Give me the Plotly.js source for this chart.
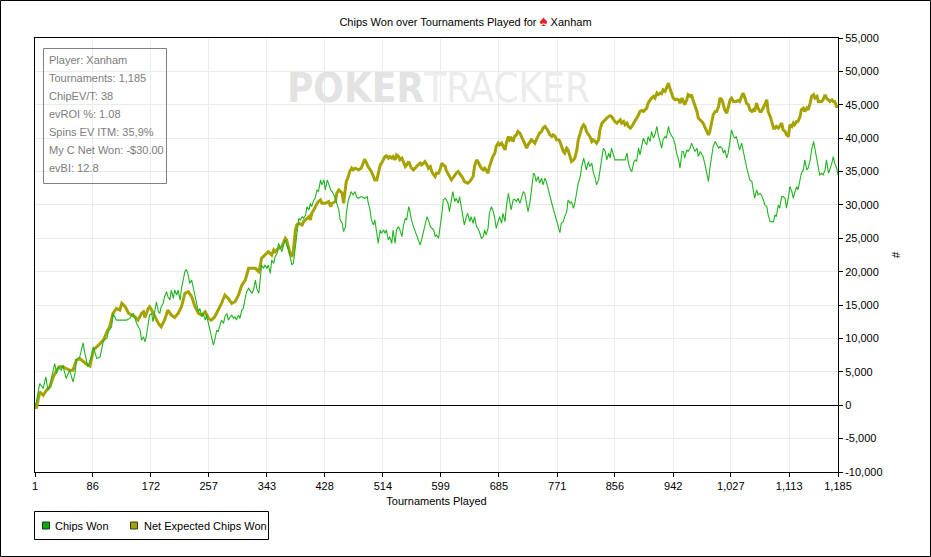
<!DOCTYPE html>
<html>
<head>
<meta charset="utf-8">
<script src="https://cdn.plot.ly/plotly-3.0.1.min.js"></script>
<style>
html,body{margin:0;padding:0;background:#fff;}
#chart{width:931px;height:557px;}
</style>
</head>
<body>
<div id="chart"></div>
<script>
// ---- Data ----
const chipsT = [1,3,8,13,17,20,23,27,30,33,35,40,42,47,52,57,60,62,67,72,74,79,84,87,92,97,102,107,109,114,116,121,126,136,141,146,151,156,158,161,
163,165,168,170,173,175,178,180,183,185,187,190,192,195,197,200,202,205,207,210,212,215,217,220,222,224,227,229,232,234,237,239,242,244,247,249,252,254,257,259,261,264,266,269,271,274,276,279,281,284,286,289,291,294,296,298,301,303,306,308,311,
313,316,318,321,323,326,328,331,333,335,338,340,343,345,348,350,353,355,358,360,363,365,368,370,372,375,377,380,382,385,387,390,392,395,397,400,402,405,407,409,412,414,417,419,422,424,427,429,432,434,437,439,442,444,446,449,451,454,456,459,
460,463,465,467,470,473,475,478,482,487,491,492,495,497,500,502,505,507,510,512,515,517,519,522,524,527,529,532,534,537,539,542,544,547,549,552,554,556,559,561,564,566,569,571,574,576,579,581,584,586,589,591,593,596,598,601,603,606,
607,610,612,615,617,620,622,625,627,629,632,634,637,639,642,644,647,649,652,654,657,659,662,664,666,669,671,674,676,679,681,684,686,689,691,694,696,699,701,703,706,708,711,713,716,718,721,723,726,728,731,733,736,738,740,743,745,748,750,753,
755,758,760,763,765,768,770,773,775,777,780,782,785,787,790,792,795,797,800,802,805,807,810,812,814,817,819,822,824,827,829,832,834,837,839,842,844,847,849,851,854,856,861,866,871,874,876,879,881,884,
886,888,891,893,896,898,900,903,905,908,910,913,915,918,920,923,925,927,930,932,935,937,940,942,945,947,950,952,955,957,959,962,964,967,969,972,974,977,979,982,984,986,989,991,994,996,999,1001,1004,1006,1009,1011,1014,1016,1018,1021,1023,1026,1028,1031,
1033,1035,1038,1040,1043,1045,1048,1050,1053,1055,1058,1060,1062,1065,1067,1070,1072,1075,1077,1080,1082,1085,1087,1090,1092,1094,1097,1099,1102,1104,1107,1109,1112,1114,1117,1119,1121,1124,1126,1129,1131,1134,1136,1139,1141,1144,1146,1149,1151,1154,1156,1158,1161,1163,1166,1168,1171,1173,1176,1178,1180,1183,1185];

const chipsWon = [0,500,3250,2500,4250,2250,3000,4750,6250,4750,5750,5250,6000,4000,5250,3500,4750,6750,7250,9350,8000,5750,7250,8750,7000,7250,9750,10000,11000,11750,13750,12750,12750,12750,13000,13750,12250,11250,9750,10250,
9500,10250,12250,13500,13750,12500,14250,15500,14000,13750,14750,15250,16250,17000,16250,15750,17250,16000,17250,16500,17250,15750,17500,18750,20000,20350,19500,18250,18750,17750,16250,15250,14000,14500,13250,13750,12750,13500,12250,11250,10250,9000,9750,11250,11000,12000,12750,12250,13250,13750,12750,13250,13500,13000,13250,12750,13500,13000,14250,14500,16250,
17000,17500,17250,16750,17250,18750,17500,16750,18750,21000,20500,21000,20500,21000,19750,21750,21250,22250,22750,24250,23500,23000,24250,24750,24000,23250,22250,21000,21250,23750,26250,28000,27750,28250,28000,28500,29750,29250,30250,29750,30750,31000,32250,32000,33750,33000,33750,32250,33750,33000,32250,32000,31500,31000,30250,29250,27750,27250,26000,26750,
28750,30750,31250,32000,31500,32000,31250,31000,31250,31000,31250,30500,29250,27750,27000,27750,25750,24250,26250,25750,26250,25750,26250,24750,25250,24250,26250,24250,26250,26750,26250,25250,26750,28000,27750,29750,29000,27750,26750,26250,25250,24750,24000,24750,26250,27250,28250,27750,26750,26500,26250,25250,25500,25000,26250,28750,30750,31000,
30850,30250,29000,30750,32000,30500,31000,30250,31250,30000,28250,27000,28250,28750,27500,28250,27250,28250,26750,26500,25750,25000,25250,26250,25500,26500,28750,29750,29250,28000,26500,27750,28250,27250,28750,27500,29750,31750,30750,29250,30750,30850,30500,31000,30250,31000,32000,31750,29750,29000,30500,32250,34750,34500,33500,34250,33250,34000,33000,34000,
33500,32250,31250,30250,29500,28500,27750,26750,25850,27250,27500,28250,29000,30750,30250,30500,29500,30250,32250,33250,34250,35750,37000,36250,35250,36500,35750,36250,35000,34000,33000,33750,35250,37250,38500,38000,36750,37750,37000,38500,37250,36750,36750,36750,36750,37750,36250,35250,35000,36500,
36750,36500,38500,37500,39250,40000,39500,39000,40250,39500,41000,40000,40500,41750,40500,39500,38500,39750,40250,40000,41750,40750,40250,40000,39000,37750,36750,35500,38000,38000,37000,38250,38000,38500,39250,38500,38000,38500,37250,38000,37500,37250,36000,35000,33500,35500,37500,38750,39500,39000,38500,38750,38500,37750,38250,37000,37750,39750,41250,40250,
40000,40250,39000,38250,39250,38000,36750,35750,34750,33750,33500,32250,31000,32250,31500,31750,31500,30750,30000,29750,28500,27500,27500,27500,28500,28250,30000,29500,31250,31250,31000,29500,31250,32750,32000,31000,31750,32750,32250,33750,34750,35250,36750,35250,35500,36750,38250,39500,38250,36750,35250,34500,34750,34500,35250,36750,34750,35250,36250,37250,36250,35500,34500];

const evT = [1,3,8,13,18,23,28,33,37,42,47,52,57,62,67,72,77,82,87,92,97,102,107,111,116,121,126,129,134,139,144,148,153,158,161,
163,168,170,173,178,183,187,192,197,202,207,212,217,222,227,232,237,242,247,252,257,261,266,271,276,281,286,291,296,301,306,311,
313,316,321,326,331,333,335,340,345,350,353,355,360,365,370,372,375,377,380,382,385,387,390,395,397,400,402,405,407,409,412,414,417,419,422,424,429,434,437,439,444,446,449,454,456,459,
460,463,465,468,470,473,478,482,485,487,490,492,497,500,502,505,507,510,512,515,517,519,522,524,527,529,532,534,537,539,542,544,547,549,552,554,556,559,561,564,566,569,571,574,576,579,581,584,586,589,591,593,596,598,601,603,606,
607,610,612,615,617,620,622,625,627,629,632,634,637,639,642,644,647,649,652,654,657,659,662,664,666,669,671,674,676,679,681,684,686,689,691,694,696,699,701,703,706,708,711,713,716,718,721,723,726,728,731,733,736,738,740,743,745,748,750,753,
755,758,760,763,765,768,770,773,775,777,780,782,785,787,790,792,795,797,800,802,805,807,810,812,814,817,819,822,824,827,829,832,834,837,839,842,844,847,849,851,854,856,859,861,864,866,869,871,874,876,879,881,884,
886,888,891,893,896,898,900,903,905,908,910,913,915,918,920,923,925,927,930,932,935,937,940,942,945,947,950,952,955,957,959,962,964,967,969,972,974,977,979,982,984,986,989,991,994,996,999,1001,1004,1006,1009,1011,1014,1016,1018,1021,1023,1026,1028,1031,
1033,1035,1038,1040,1043,1045,1048,1050,1053,1055,1058,1060,1062,1065,1067,1070,1072,1075,1077,1080,1082,1085,1087,1090,1092,1094,1097,1099,1102,1104,1107,1109,1112,1114,1117,1119,1121,1124,1126,1129,1131,1134,1136,1139,1141,1144,1146,1149,1151,1154,1156,1158,1161,1163,1166,1168,1171,1173,1176,1178,1180,1183,1185];

const evChipsWon = [0,-500,2000,1500,2250,2750,4250,5250,5750,5750,5500,5250,5250,6750,7000,6500,6150,5850,8250,8750,9250,9750,11000,11750,13750,14500,14250,15250,14750,13750,13500,13250,12750,13750,14000,
13150,14500,14750,14250,13250,12250,11750,12750,14250,13500,13150,13750,14750,16750,17000,16250,14750,13750,13500,14000,13000,12750,13250,14250,15250,16500,16000,15250,15500,16500,18000,18750,
19500,20500,20500,20500,20000,20750,22000,22500,23000,22500,23250,23000,23500,23750,25000,24750,23500,22750,22250,23250,26250,27000,27250,27000,27500,27750,28000,28250,27750,28750,29250,29750,30250,30500,30750,30250,30250,30500,29750,30250,30500,31750,32250,31750,30250,32750,
33500,34250,35000,35500,35250,35500,35250,35500,36500,36850,36250,35750,35000,34250,33750,33750,34750,36000,36250,36750,37250,37350,37000,37250,37000,37250,36750,37500,37250,36750,37000,36500,35750,36000,36500,36000,35500,35250,35500,35750,36000,36250,36000,36250,36500,36000,35500,35750,35000,34500,34250,34750,34750,35250,36250,36000,35750,
35250,34750,34250,33750,34000,34500,34750,35000,34750,34500,34000,33500,33350,33250,33500,33750,34250,35750,36750,36500,36000,35500,35250,35500,35250,34750,35750,36750,37250,37750,38750,39250,39000,39250,38750,38250,39250,40250,39750,40000,39500,40250,40500,41000,40750,40250,39750,39000,38500,39000,39500,39750,39500,39250,39750,40250,40750,41000,41500,41750,
41500,41000,40500,40250,40500,40250,39750,39750,39500,38750,38000,37750,38500,38250,37250,36500,36750,37000,38250,39750,40750,41500,42000,41750,41000,40500,40250,39500,39750,39500,39250,39750,41250,42250,42500,42750,43000,43250,43350,43250,42750,42500,42250,42500,42750,42250,42500,42000,42250,41750,41500,41750,42250,
42750,43000,43500,44000,44150,44000,44250,44500,45250,45750,46000,46250,46000,46750,46500,46750,46650,47250,47000,47500,48250,47500,46500,46000,45750,45850,45750,45250,46000,45500,45000,45750,46500,46250,46500,45500,45000,44000,43000,42750,42500,42250,41500,41000,40500,41000,42250,43500,44000,44000,44750,46000,45750,45000,44250,43750,44750,45750,46000,45500,
45500,45500,45650,45500,46250,46750,46000,45250,45000,44250,44000,44250,44000,45250,44500,44000,44000,44500,45000,45750,44000,43250,42500,41500,41500,41750,41500,41750,42250,41250,41000,40500,40250,42000,41750,42250,42000,42500,42500,43250,44250,44500,44000,44500,44250,45250,46250,46500,46000,46250,45500,45500,45500,45750,46500,46000,45750,45500,45750,45500,45500,44750,44750];

const seriesNames = ['Chips Won', 'Net Expected Chips Won'];
const xTickVals = [1,86,172,257,343,428,514,599,685,771,856,942,1027,1113,1185];
const xTickText = ['1','86','172','257','343','428','514','599','685','771','856','942','1,027','1,113','1,185'];
const yTickVals = [-10000,-5000,0,5000,10000,15000,20000,25000,30000,35000,40000,45000,50000,55000];
const yTickText = ['-10,000','-5,000','0','5,000','10,000','15,000','20,000','25,000','30,000','35,000','40,000','45,000','50,000','55,000'];
const infoLines = ['Player: Xanham','Tournaments: 1,185','ChipEV/T: 38','evROI %: 1.08','Spins EV ITM: 35,9%','My C Net Won: -$30.00','evBI: 12.8'];
const chartTitle = 'Chips Won over Tournaments Played for <span style="color:#e0201c;font-size:15px">♠</span> Xanham';

// ---- Styling / layout ----
const GREEN = '#22b422', OLIVE = '#a6a300';
const FONT = 'Liberation Sans, Arial, sans-serif';
const L = 35, R = 838, T = 38, B = 472;
const PX = x => (x - L) / (R - L);
const PY = y => (B - y) / (B - T);

const traces = [
  {x: evT, y: evChipsWon, name: seriesNames[1], type: 'scatter', mode: 'lines',
   line: {color: OLIVE, width: 3}, hoverinfo: 'skip'},
  {x: chipsT, y: chipsWon, name: seriesNames[0], type: 'scatter', mode: 'lines',
   line: {color: GREEN, width: 1.1}, hoverinfo: 'skip'}
];

const annotations = [];
infoLines.forEach((s, i) => {
  annotations.push({xref:'paper', yref:'paper', x: PX(47), y: PY(60 + i*18), text: s,
    showarrow:false, xanchor:'left', yanchor:'middle', font:{family:FONT, size:11, color:'#7c7c7c'}});
});
annotations.push({xref:'paper', yref:'paper', x: PX(438), y: PY(88),
  text: '<b>POKER</b><span style="color:#ececec">TRACKER</span>', showarrow:false,
  xanchor:'center', yanchor:'middle',
  font:{family:'Liberation Sans Narrow, DejaVu Sans Condensed, Liberation Sans, sans-serif', size:40, color:'#e3e3e3'}});
// legend texts
annotations.push({xref:'paper', yref:'paper', x: PX(53), y: PY(525.5), text: seriesNames[0],
  showarrow:false, xanchor:'left', yanchor:'middle', font:{family:FONT, size:11, color:'#000'}});
annotations.push({xref:'paper', yref:'paper', x: PX(141.5), y: PY(525.5), text: seriesNames[1],
  showarrow:false, xanchor:'left', yanchor:'middle', font:{family:FONT, size:11, color:'#000'}});

const shapes = [
  {type:'rect', xref:'paper', yref:'paper', x0: PX(0.5), x1: PX(930.5), y0: PY(556.5), y1: PY(0.5),
   line:{color:'#000', width:1}, fillcolor:'rgba(0,0,0,0)'},
  {type:'rect', xref:'paper', yref:'paper', x0: PX(43.5), x1: PX(166.5), y0: PY(183.5), y1: PY(48.5),
   line:{color:'#808080', width:1}, fillcolor:'rgba(0,0,0,0)'},
  {type:'rect', xref:'paper', yref:'paper', x0: PX(34.5), x1: PX(268.5), y0: PY(539.5), y1: PY(511.5),
   line:{color:'#000', width:1}, fillcolor:'#fff'},
  {type:'rect', xref:'paper', yref:'paper', x0: PX(42.5), x1: PX(49.5), y0: PY(529), y1: PY(522),
   line:{color:'#1a3a1a', width:1}, fillcolor:'#10a810'},
  {type:'rect', xref:'paper', yref:'paper', x0: PX(130.5), x1: PX(137.5), y0: PY(529), y1: PY(522),
   line:{color:'#3a3a10', width:1}, fillcolor:'#a0a010'}
];

const layout = {
  width: 931, height: 557,
  margin: {l: L, r: 931 - R, t: T, b: 557 - B, pad: 0},
  paper_bgcolor: '#fff', plot_bgcolor: '#fff',
  font: {family: FONT, size: 11, color: '#000'},
  showlegend: false,
  hovermode: false,
  title: {text: chartTitle, xref: 'container', x: 0.5, xanchor: 'center',
          yref: 'container', y: 1 - 22/557, yanchor: 'middle', font: {family: FONT, size: 11, color: '#000'}},
  xaxis: {range: [1, 1185], tickmode: 'array', tickvals: xTickVals, ticktext: xTickText,
          ticks: 'outside', ticklen: 4, tickcolor: '#000', tickwidth: 1,
          showline: true, linecolor: '#000', linewidth: 1, mirror: true,
          showgrid: true, gridcolor: '#ebebeb', gridwidth: 1, zeroline: false,
          tickfont: {family: FONT, size: 11, color: '#000'},
          title: {text: 'Tournaments Played', standoff: 6, font: {family: FONT, size: 11, color: '#000'}}},
  yaxis: {range: [-10000, 55000], side: 'right', tickmode: 'array', tickvals: yTickVals, ticktext: yTickText,
          ticks: 'outside', ticklen: 4, tickcolor: '#000', tickwidth: 1,
          showline: true, linecolor: '#000', linewidth: 1, mirror: true,
          showgrid: true, gridcolor: '#ebebeb', gridwidth: 1,
          zeroline: true, zerolinecolor: '#000', zerolinewidth: 1,
          tickfont: {family: FONT, size: 11, color: '#000'},
          title: {text: '#', standoff: 10, font: {family: FONT, size: 11, color: '#000'}}},
  annotations: annotations,
  shapes: shapes
};

Plotly.newPlot('chart', traces, layout, {displayModeBar: false, staticPlot: true});
</script>
</body>
</html>
